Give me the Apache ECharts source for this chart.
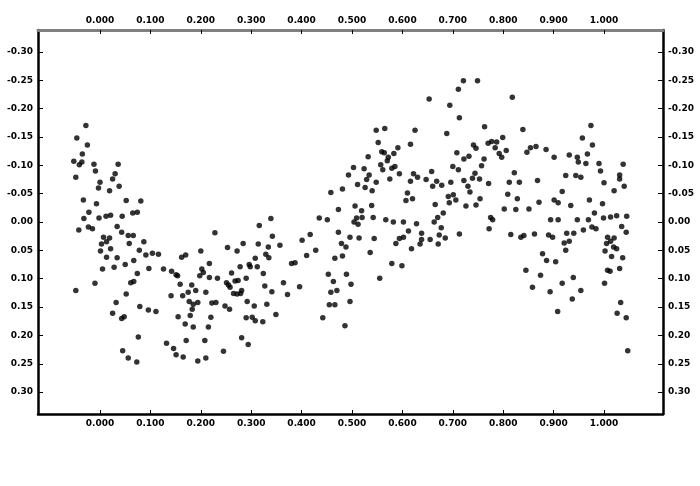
<!DOCTYPE html>
<html>
<head>
<meta charset="utf-8">
<style>html,body{margin:0;padding:0;background:#fff;}#chart{width:700px;height:486px;}</style>
<script src="https://cdn.jsdelivr.net/npm/echarts@6/dist/echarts.min.js"></script>
</head>
<body>
<div id="chart"></div>
<script>
// Tick values
var xTicks = [0, 0.1, 0.2, 0.3, 0.4, 0.5, 0.6, 0.7, 0.8, 0.9, 1.0];
var yTicks = [-0.30, -0.25, -0.20, -0.15, -0.10, -0.05, 0, 0.05, 0.10, 0.15, 0.20, 0.25, 0.30];
var xRange = [-0.123, 1.117];
var yRange = [-0.3386, 0.3386];

// Points [phase, delta] grouped by phase range
var pointsA = [[-0.028,-0.170],[-0.046,-0.148],[-0.025,-0.136],[-0.035,-0.120],[-0.052,-0.107],[-0.041,-0.101],[-0.036,-0.106],[-0.048,-0.079],[-0.012,-0.102],[-0.009,-0.090],[0.036,-0.102],[0.030,-0.085],[0.025,-0.076],[0.000,-0.070],[-0.003,-0.060],[0.019,-0.055],[0.038,-0.063],[-0.033,-0.039],[-0.007,-0.032],[0.052,-0.038],[0.081,-0.037],[-0.022,-0.017],[-0.032,-0.006],[-0.002,-0.007],[0.012,-0.010],[0.021,-0.012],[0.044,-0.010],[0.065,-0.016],[0.074,-0.017],[-0.042,0.014],[-0.023,0.009],[-0.015,0.012],[0.034,0.008],[0.043,0.018],[0.056,0.024],[0.066,0.024],[0.007,0.027],[0.019,0.028],[0.013,0.035],[0.003,0.039],[0.021,0.047],[0.001,0.051],[0.058,0.038],[0.087,0.035],[0.013,0.062],[0.034,0.063],[0.078,0.050],[0.091,0.058],[0.104,0.055],[0.116,0.057],[0.067,0.068],[0.050,0.075],[0.005,0.083],[0.028,0.080],[0.074,0.091],[0.097,0.082],[-0.010,0.108],[0.061,0.107],[0.067,0.105],[-0.048,0.121],[0.052,0.127],[0.032,0.142],[0.079,0.149],[0.096,0.155],[0.111,0.158],[0.025,0.161],[0.043,0.170],[0.048,0.167],[0.076,0.203],[0.045,0.227],[0.056,0.240],[0.073,0.247]];
var pointsB = [[0.228,0.019],[0.316,0.006],[0.253,0.045],[0.272,0.051],[0.284,0.038],[0.314,0.039],[0.200,0.051],[0.162,0.062],[0.170,0.058],[0.217,0.073],[0.126,0.083],[0.142,0.087],[0.151,0.093],[0.154,0.095],[0.202,0.083],[0.205,0.089],[0.198,0.095],[0.217,0.098],[0.233,0.099],[0.261,0.090],[0.278,0.079],[0.296,0.075],[0.298,0.079],[0.308,0.064],[0.312,0.079],[0.159,0.110],[0.182,0.111],[0.251,0.107],[0.255,0.111],[0.258,0.115],[0.268,0.104],[0.274,0.103],[0.290,0.099],[0.141,0.130],[0.164,0.130],[0.175,0.124],[0.190,0.121],[0.210,0.124],[0.265,0.126],[0.272,0.127],[0.279,0.126],[0.281,0.121],[0.177,0.140],[0.185,0.145],[0.194,0.142],[0.222,0.143],[0.230,0.142],[0.292,0.140],[0.306,0.148],[0.248,0.148],[0.257,0.154],[0.183,0.154],[0.155,0.167],[0.179,0.165],[0.220,0.168],[0.290,0.169],[0.302,0.168],[0.308,0.174],[0.169,0.180],[0.185,0.185],[0.215,0.185],[0.132,0.214],[0.146,0.223],[0.171,0.209],[0.208,0.209],[0.281,0.204],[0.294,0.216],[0.151,0.234],[0.165,0.238],[0.194,0.245],[0.210,0.240],[0.245,0.228]];
var pointsC = [[0.503,-0.096],[0.493,-0.083],[0.511,-0.066],[0.458,-0.052],[0.481,-0.058],[0.506,-0.028],[0.473,-0.022],[0.435,-0.007],[0.451,-0.004],[0.509,-0.007],[0.504,0.000],[0.512,0.004],[0.339,-0.006],[0.473,0.018],[0.496,0.027],[0.479,0.038],[0.488,0.044],[0.514,0.028],[0.342,0.025],[0.417,0.022],[0.401,0.032],[0.334,0.044],[0.357,0.041],[0.329,0.057],[0.335,0.063],[0.410,0.059],[0.428,0.050],[0.466,0.064],[0.481,0.060],[0.380,0.073],[0.387,0.072],[0.324,0.091],[0.453,0.092],[0.489,0.092],[0.463,0.105],[0.498,0.110],[0.327,0.113],[0.364,0.107],[0.341,0.123],[0.372,0.128],[0.396,0.114],[0.458,0.124],[0.470,0.121],[0.455,0.146],[0.466,0.146],[0.496,0.140],[0.331,0.145],[0.349,0.163],[0.323,0.176],[0.442,0.169],[0.486,0.183]];
var pointsD = [[0.653,-0.217],[0.694,-0.206],[0.713,-0.184],[0.548,-0.162],[0.565,-0.165],[0.625,-0.162],[0.688,-0.156],[0.552,-0.140],[0.616,-0.137],[0.591,-0.131],[0.559,-0.124],[0.564,-0.122],[0.583,-0.121],[0.708,-0.122],[0.532,-0.115],[0.572,-0.114],[0.570,-0.108],[0.557,-0.101],[0.579,-0.095],[0.585,-0.098],[0.561,-0.092],[0.524,-0.094],[0.594,-0.085],[0.700,-0.098],[0.711,-0.092],[0.658,-0.089],[0.622,-0.085],[0.630,-0.079],[0.534,-0.083],[0.529,-0.075],[0.548,-0.070],[0.575,-0.076],[0.616,-0.072],[0.647,-0.075],[0.668,-0.072],[0.660,-0.063],[0.678,-0.065],[0.696,-0.070],[0.526,-0.061],[0.540,-0.055],[0.610,-0.051],[0.607,-0.038],[0.620,-0.041],[0.691,-0.045],[0.701,-0.048],[0.706,-0.039],[0.693,-0.034],[0.539,-0.029],[0.665,-0.031],[0.519,-0.020],[0.681,-0.016],[0.670,-0.008],[0.520,-0.008],[0.542,-0.008],[0.567,-0.004],[0.582,0.000],[0.602,0.000],[0.628,0.003],[0.663,0.000],[0.677,0.010],[0.612,0.016],[0.638,0.020],[0.713,0.021],[0.673,0.023],[0.602,0.027],[0.594,0.029],[0.587,0.038],[0.638,0.031],[0.655,0.031],[0.685,0.028],[0.635,0.039],[0.671,0.039],[0.544,0.029],[0.618,0.047],[0.536,0.054],[0.579,0.073],[0.599,0.077],[0.555,0.099],[0.721,-0.249],[0.749,-0.249],[0.711,-0.234]];
var pointsE = [[0.818,-0.220],[0.763,-0.168],[0.839,-0.163],[0.799,-0.149],[0.770,-0.139],[0.777,-0.142],[0.741,-0.136],[0.746,-0.130],[0.787,-0.141],[0.784,-0.131],[0.806,-0.126],[0.792,-0.121],[0.797,-0.114],[0.854,-0.131],[0.865,-0.133],[0.847,-0.123],[0.885,-0.128],[0.901,-0.114],[0.722,-0.111],[0.732,-0.116],[0.762,-0.111],[0.757,-0.099],[0.744,-0.086],[0.739,-0.077],[0.722,-0.073],[0.753,-0.076],[0.771,-0.068],[0.822,-0.087],[0.812,-0.070],[0.832,-0.070],[0.868,-0.073],[0.730,-0.063],[0.734,-0.053],[0.809,-0.049],[0.828,-0.041],[0.754,-0.041],[0.746,-0.030],[0.726,-0.028],[0.871,-0.035],[0.901,-0.039],[0.909,-0.034],[0.802,-0.023],[0.825,-0.022],[0.851,-0.023],[0.775,-0.008],[0.779,-0.004],[0.772,0.012],[0.894,-0.004],[0.909,-0.004],[0.815,0.022],[0.835,0.027],[0.841,0.024],[0.862,0.021],[0.890,0.023],[0.898,0.027],[0.878,0.056],[0.886,0.068],[0.904,0.070],[0.845,0.085],[0.874,0.094],[0.858,0.115],[0.893,0.123],[0.908,0.158]];
var pointsF = [[0.974,-0.170],[0.957,-0.148],[0.977,-0.136],[0.967,-0.120],[0.931,-0.118],[0.947,-0.114],[0.949,-0.106],[0.964,-0.103],[0.990,-0.103],[1.038,-0.102],[0.993,-0.090],[1.031,-0.083],[1.031,-0.076],[0.924,-0.082],[0.944,-0.082],[0.954,-0.079],[1.000,-0.069],[1.040,-0.063],[1.020,-0.055],[0.917,-0.054],[0.971,-0.039],[0.997,-0.032],[0.934,-0.029],[0.981,-0.016],[0.999,-0.007],[1.013,-0.009],[1.025,-0.011],[1.045,-0.010],[0.947,-0.004],[0.969,-0.004],[1.035,0.008],[1.044,0.018],[0.976,0.009],[0.984,0.012],[0.959,0.014],[0.926,0.020],[0.940,0.020],[1.007,0.027],[1.020,0.028],[1.013,0.034],[1.005,0.038],[1.019,0.044],[1.025,0.047],[1.002,0.051],[0.921,0.037],[0.931,0.034],[0.924,0.050],[1.015,0.061],[1.037,0.063],[1.007,0.085],[1.012,0.087],[1.031,0.082],[0.917,0.108],[0.939,0.098],[0.954,0.121],[0.937,0.136],[1.001,0.108],[1.033,0.142],[1.026,0.161],[1.044,0.169],[1.047,0.227]];

var allPoints = pointsA.concat(pointsB, pointsC, pointsD, pointsE, pointsF);

var labelFont = {fontFamily: 'DejaVu Sans', fontSize: 9, fontWeight: 'bold', color: '#000'};

function xAxisDef(pos, lineColor, lineWidth) {
  return {
    type: 'value', position: pos, min: xRange[0], max: xRange[1],
    splitLine: {show: false},
    axisLine: {show: true, onZero: false, lineStyle: {color: lineColor, width: lineWidth}},
    axisTick: {show: true, inside: true, length: 4, customValues: xTicks, lineStyle: {color: '#000', width: 1}},
    axisLabel: Object.assign({show: true, margin: 5, customValues: xTicks,
      formatter: function (v) { return v.toFixed(3); }}, labelFont)
  };
}
function yAxisDef(pos) {
  return {
    type: 'value', position: pos, inverse: true, min: yRange[0], max: yRange[1],
    splitLine: {show: false},
    axisLine: {show: true, onZero: false, lineStyle: {color: '#000', width: 2.5}},
    axisTick: {show: true, inside: true, length: 5, customValues: yTicks, lineStyle: {color: '#000', width: 1}},
    axisLabel: Object.assign({show: true, margin: 5, customValues: yTicks,
      formatter: function (v) { return v.toFixed(2); }}, labelFont)
  };
}

var chart = echarts.init(document.getElementById('chart'), null, {renderer: 'canvas'});
chart.setOption({
  animation: false,
  backgroundColor: '#fff',
  grid: {left: 38, right: 37, top: 30, bottom: 72, containLabel: false},
  xAxis: [xAxisDef('bottom', '#000', 2.5), xAxisDef('top', '#808080', 3)],
  yAxis: [yAxisDef('left'), yAxisDef('right')],
  series: [{
    type: 'scatter', xAxisIndex: 0, yAxisIndex: 0,
    symbol: 'circle', symbolSize: 5.5,
    itemStyle: {color: '#000'},
    data: allPoints
  }]
});
</script>
</body>
</html>
